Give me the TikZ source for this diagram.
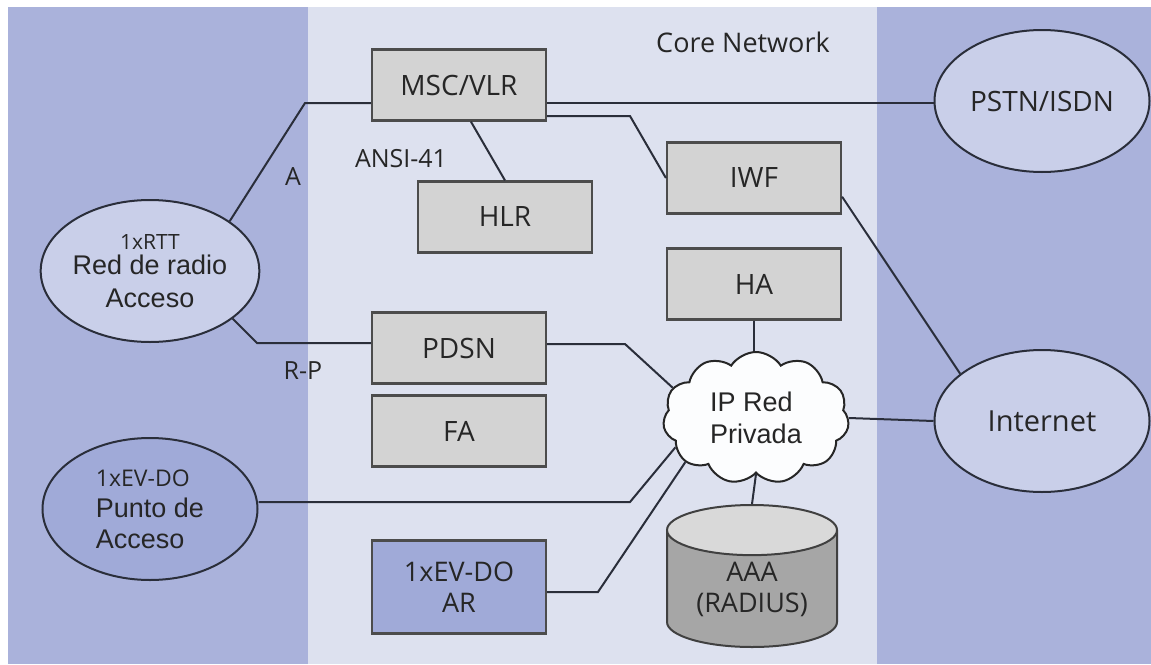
\documentclass[tikz,border=0pt]{standalone}
\usepackage{fontspec}
\setmainfont{Open Sans}
\newfontfamily\arialfont{Liberation Sans}
\usetikzlibrary{shapes.geometric,shapes.symbols}

\definecolor{panelazul}{HTML}{AAB2DB}
\definecolor{panelcore}{HTML}{DDE1EF}
\definecolor{cajagris}{HTML}{D3D3D3}
\definecolor{redfill}{HTML}{C9CFE9}
\definecolor{evdofill}{HTML}{A0AAD8}
\definecolor{linea}{HTML}{2A2E3A}

\tikzset{
  caja/.style={draw=black!70, line width=2.2pt, fill=cajagris, minimum width=174pt, minimum height=71pt, inner sep=0pt, text=black!85, font=\fontsize{28}{30}\selectfont},
  red/.style={ellipse, draw=linea, line width=2pt, fill=redfill, minimum width=215pt, minimum height=142pt, inner sep=0pt, text=black!85, font=\fontsize{28}{30}\selectfont},
  conex/.style={draw=linea, line width=2pt},
  rotulo/.style={text=black!85, font=\fontsize{25}{27}\selectfont}
}

\begin{document}
\begin{tikzpicture}[x=1pt, y=-1pt]
	\useasboundingbox (0,0) rectangle (1151,664);
	\fill[white] (0,0) rectangle (1151,664);
	\fill[panelazul] (8,7) rectangle (308,664);
	\fill[panelcore] (308,7) rectangle (877,664);
	\fill[panelazul] (877,7) rectangle (1151,664);

	\node[rotulo, font=\fontsize{27}{29}\selectfont] (core) at (743,42) {Core Network};

	\node[caja] (msc) at (459,85) {MSC/VLR};
	\node[caja] (hlr) at (505,217) {HLR};
	\node[caja] (iwf) at (754,178) {IWF};
	\node[caja] (ha) at (754,284) {HA};
	\node[caja] (pdsn) at (459,348) {PDSN};
	\node[caja] (fa) at (459,431) {FA};
	\node[caja, fill=evdofill, minimum height=93pt, align=center, font=\fontsize{27}{31}\selectfont] (ar) at (459,587) {1xEV-DO\\AR};

	\node[red, align=center, font=\arialfont\fontsize{27}{33}\selectfont] (rtt) at (150,271) {{\fontspec{Open Sans}\fontsize{21}{22}\selectfont 1xRTT}\\[-8pt]Red de radio\\Acceso};
	\node[red, fill=evdofill, align=left, font=\arialfont\fontsize{27}{31}\selectfont] (evdo) at (150,509) {{\fontspec{Open Sans}\fontsize{23}{24}\selectfont 1xEV-DO}\\Punto de\\Acceso};
	\node[red] (pstn) at (1042,101) {PSTN/ISDN};
	\node[red, font=\fontsize{29}{31}\selectfont] (internet) at (1042,421) {Internet};

	\node[cloud, cloud puffs=11, cloud puff arc=115, aspect=1.4, draw=black!85, line width=2pt, fill=white!92!panelcore, minimum width=186pt, minimum height=132pt, inner sep=0pt, align=left, text=black!85, font=\arialfont\fontsize{27}{32}\selectfont] (nube) at (756,418) {IP Red\\Privada};

	\node[cylinder, shape border rotate=90, shape aspect=0.45, draw=black!75, line width=2pt, cylinder uses custom fill, cylinder body fill=black!35, cylinder end fill=black!15, minimum width=170pt, minimum height=142pt, inner sep=0pt, anchor=south, align=center, text=black!85, font=\fontsize{27}{31}\selectfont] (aaa) at (752,648) {AAA\\(RADIUS)};

	\node[rotulo] (ansi) at (401,159) {ANSI-41};
	\node[rotulo] (ifA) at (293,177) {A};
	\node[rotulo] (ifRP) at (303,371) {R-P};

	\coordinate (codoA) at (305,103);
	\coordinate (codoRP) at (257,343);
	\coordinate (codoIWF) at (630,116);
	\coordinate (codoPDSN) at (625,344);
	\coordinate (codoEV) at (630,502);
	\coordinate (codoAR) at (598,592);

	\draw[conex] (rtt.32) -- (codoA) -- (msc.west |- codoA);
	\draw[conex] (msc.east |- codoA) -- (pstn.west |- codoA);
	\draw[conex] (msc.east |- codoIWF) -- (codoIWF) -- (iwf.west);
	\draw[conex] (msc.-72) -- (hlr.north);
	\draw[conex] (iwf.-12) -- (internet.150);
	\draw[conex] (rtt.-30) -- (codoRP) -- (pdsn.west |- codoRP);
	\draw[conex] (pdsn.east |- codoPDSN) -- (codoPDSN) -- (nube.160);
	\draw[conex] (evdo.east |- codoEV) -- (codoEV) -- (nube.200);
	\draw[conex] (ar.east |- codoAR) -- (codoAR) -- (nube.212);
	\draw[conex] (ha.south) -- (ha.south |- nube.north);
	\draw[conex] (nube.south) -- (aaa.north);
	\draw[conex] (nube.east) -- (internet.west);
\end{tikzpicture}
\end{document}
